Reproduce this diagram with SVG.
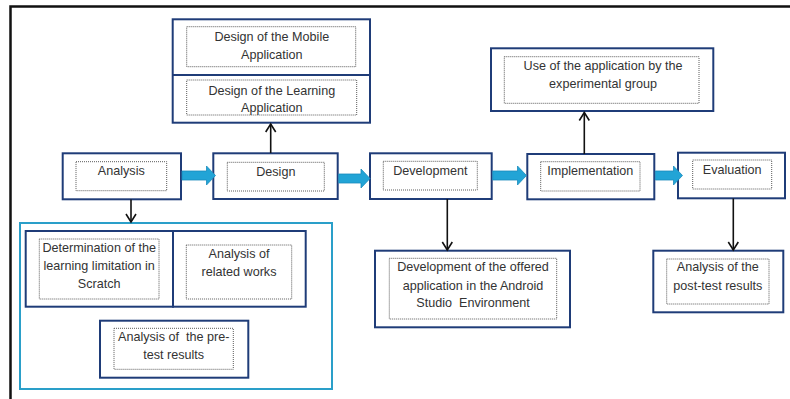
<svg xmlns="http://www.w3.org/2000/svg" width="790" height="399" viewBox="0 0 790 399">
  <defs>
    <style>
      .box { fill: #ffffff; stroke: #1f3c78; stroke-width: 2; }
      .inner { fill: none; stroke: #5a5a5a; stroke-width: 1; stroke-dasharray: 1 1; }
      .group { fill: none; stroke: #2a9fc9; stroke-width: 2; }
      .frame { fill: none; stroke: #111111; stroke-width: 2.5; }
      .link { fill: none; stroke: #111111; stroke-width: 1.6; }
      .flow { fill: #22a4d6; stroke: #1a8cbc; stroke-width: 0.8; }
      text { font-family: "Liberation Sans", Arial, sans-serif; font-size: 12.6px; fill: #333333; text-anchor: middle; white-space: pre; }
    </style>
    <marker id="open" markerWidth="12" markerHeight="12" refX="10" refY="6" orient="auto" markerUnits="userSpaceOnUse">
      <path d="M2,1 L10,6 L2,11" fill="none" stroke="#111111" stroke-width="1.6"/>
    </marker>
  </defs>

  <rect width="790" height="399" fill="#ffffff"/>
  <path class="frame" d="M10.5,399 V6.5 H790"/>

  <!-- Analysis stage sub-tasks container -->
  <rect class="group" x="20" y="223" width="312" height="166"/>

  <g id="analysis">
    <rect class="box" x="62.7" y="153.3" width="118.3" height="46"/>
    <rect class="inner" x="76" y="161.7" width="90.7" height="29"/>
    <text x="121.3" y="174.5">Analysis</text>
  </g>

  <g id="design">
    <rect class="box" x="213.3" y="153.3" width="124.4" height="45.7"/>
    <rect class="inner" x="227.3" y="162.3" width="97" height="28.7"/>
    <text x="275.8" y="175.5">Design</text>
  </g>

  <g id="development">
    <rect class="box" x="370" y="153.3" width="121.7" height="45.7"/>
    <rect class="inner" x="383.3" y="161.3" width="94" height="28.7"/>
    <text x="430.3" y="174.5">Development</text>
  </g>

  <g id="implementation">
    <rect class="box" x="527.3" y="154" width="127" height="45.3"/>
    <rect class="inner" x="540.7" y="161.7" width="99.3" height="29.3"/>
    <text x="590.3" y="175.2">Implementation</text>
  </g>

  <g id="evaluation">
    <rect class="box" x="678" y="152.7" width="107" height="45.6"/>
    <rect class="inner" x="692.7" y="160" width="79" height="29"/>
    <text x="732.2" y="173.5">Evaluation</text>
  </g>

  <g id="design-outputs">
    <rect class="box" x="172.7" y="19.3" width="197.3" height="103.4"/>
    <line class="box" x1="172.7" y1="75" x2="370" y2="75"/>
    <rect class="inner" x="186.7" y="26.7" width="169" height="40"/>
    <text x="271.8" y="41.2">Design of the Mobile</text>
    <text x="271.8" y="58.8">Application</text>
    <rect class="inner" x="186.7" y="80" width="170" height="35"/>
    <text x="271.8" y="94.5">Design of the Learning</text>
    <text x="271.8" y="112">Application</text>
  </g>

  <g id="usage">
    <rect class="box" x="491" y="48.3" width="222.3" height="62.7"/>
    <rect class="inner" x="504.3" y="56.7" width="194.7" height="46.6"/>
    <text x="603" y="69.5">Use of the application by the</text>
    <text x="603" y="87.8">experimental group</text>
  </g>

  <g id="limitation">
    <rect class="box" x="25.7" y="231" width="147.3" height="75.7"/>
    <rect class="inner" x="39.3" y="239" width="119.7" height="60"/>
    <text x="99.2" y="252.2">Determination of the</text>
    <text x="99.2" y="270.2">learning limitation in</text>
    <text x="99.2" y="287.8">Scratch</text>
  </g>

  <g id="related-works">
    <rect class="box" x="173" y="231" width="132.7" height="75.7"/>
    <rect class="inner" x="186.3" y="245" width="105.4" height="54"/>
    <text x="239" y="257.8">Analysis of</text>
    <text x="239" y="275.5">related works</text>
  </g>

  <g id="pre-test">
    <rect class="box" x="100" y="320.7" width="148.3" height="57"/>
    <rect class="inner" x="114" y="328.3" width="119.3" height="41"/>
    <text x="173.7" y="341.2" xml:space="preserve">Analysis of  the pre-</text>
    <text x="173.7" y="358.8">test results</text>
  </g>

  <g id="android-build">
    <rect class="box" x="375" y="250.7" width="195" height="76.6"/>
    <rect class="inner" x="389.3" y="258.3" width="167.4" height="60.7"/>
    <text x="473" y="270.5">Development of the offered</text>
    <text x="473" y="289.5">application in the Android</text>
    <text x="473" y="306.8" xml:space="preserve">Studio  Environment</text>
  </g>

  <g id="post-test">
    <rect class="box" x="653.3" y="250.7" width="130" height="61.6"/>
    <rect class="inner" x="666.7" y="259" width="102.3" height="45"/>
    <text x="717.8" y="271.2">Analysis of the</text>
    <text x="717.8" y="289.5">post-test results</text>
  </g>

  <g id="connectors">
    <!-- block arrows between the main stages -->
    <path class="flow" d="M182,171 H206.5 V166 L215.5,175.5 L206.5,185 V180 H182 Z"/>
    <path class="flow" d="M338.7,174 H361 V169 L370,178.5 L361,188 V183 H338.7 Z"/>
    <path class="flow" d="M492.7,171 H517.5 V166 L526.5,175.5 L517.5,185 V180 H492.7 Z"/>
    <path class="flow" d="M655.3,171 H673.5 V166 L682.5,175.5 L673.5,185 V180 H655.3 Z"/>
    <!-- plain arrows to the sub-tasks -->
    <line class="link" x1="131" y1="199.5" x2="131" y2="222" marker-end="url(#open)"/>
    <line class="link" x1="270.7" y1="153" x2="270.7" y2="124" marker-end="url(#open)"/>
    <line class="link" x1="447.3" y1="199" x2="447.3" y2="250" marker-end="url(#open)"/>
    <line class="link" x1="584.3" y1="154" x2="584.3" y2="112.5" marker-end="url(#open)"/>
    <line class="link" x1="733.3" y1="198.5" x2="733.3" y2="250" marker-end="url(#open)"/>
  </g>
</svg>
